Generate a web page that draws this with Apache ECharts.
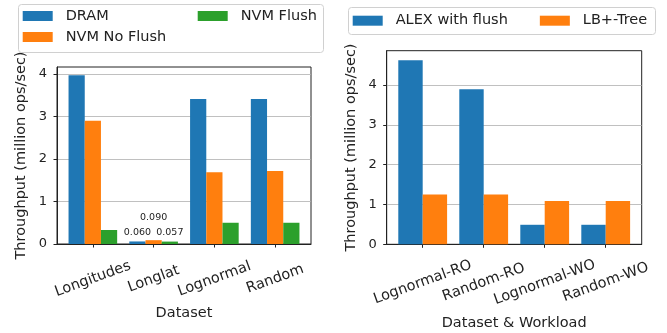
<!DOCTYPE html>
<html>
<head>
<meta charset="utf-8">
<script src="https://cdn.jsdelivr.net/npm/echarts@6/dist/echarts.min.js"></script>
<style>
  html, body { margin: 0; padding: 0; background: #fff; }
  #chart { width: 667px; height: 333px; }
</style>
</head>
<body>
<div id="chart"></div>
<script>
var dom = document.getElementById("chart");
var myChart = echarts.init(dom, null, { renderer: "canvas" });

// left panel
var datasets = ["Longitudes", "Longlat", "Lognormal", "Random"];
var dram = [3.97, 0.060, 3.41, 3.41];
var nvmNoFlush = [2.90, 0.090, 1.69, 1.72];
var nvmFlush = [0.33, 0.057, 0.50, 0.50];
var annotatedIndex = 1; // Longlat gets value labels

// right panel
var workloads = ["Lognormal-RO", "Random-RO", "Lognormal-WO", "Random-WO"];
var alexFlush = [4.62, 3.89, 0.49, 0.49];
var lbTree = [1.25, 1.25, 1.09, 1.09];

var yTicks = [0, 1, 2, 3, 4];
var xTicks = [0, 1, 2, 3];

var FONT = "DejaVu Sans";
var INK = "#222";
var colors = ["#1f77b4", "#ff7f0e", "#2ca02c"];

function toPoints(values, labelDistance) {
  return values.map(function (v, i) {
    var item = { value: [i, v] };
    if (labelDistance != null && i === annotatedIndex) {
      item.label = {
        show: true,
        position: "top",
        distance: labelDistance,
        formatter: function (p) { return p.value[1].toFixed(3); },
        fontFamily: FONT,
        fontSize: 9.5,
        color: INK,
      };
    }
    return item;
  });
}

function xAxisFor(gridIndex, names, margin, nameGap, axisName) {
  return {
    type: "value",
    gridIndex: gridIndex,
    min: -0.59,
    max: 3.59,
    name: axisName,
    nameLocation: "middle",
    nameGap: nameGap,
    nameTextStyle: { fontFamily: FONT, fontSize: 14.5, color: INK },
    axisLine: { show: true, onZero: false, lineStyle: { color: INK, width: 1 } },
    axisTick: { show: true, length: 3.5, lineStyle: { color: INK }, customValues: xTicks },
    axisLabel: {
      customValues: xTicks,
      rotate: 20,
      align: "center",
      verticalAlign: "middle",
      margin: margin,
      fontFamily: FONT,
      fontSize: 14.5,
      color: INK,
      formatter: function (v) { return names[Math.round(v)]; },
    },
    splitLine: { show: false },
  };
}

function yAxisFor(gridIndex, max) {
  return {
    type: "value",
    gridIndex: gridIndex,
    min: 0,
    max: max,
    interval: 1,
    name: "Throughput (million ops/sec)",
    nameLocation: "middle",
    nameGap: 28,
    nameTextStyle: { fontFamily: FONT, fontSize: 14.5, color: INK },
    axisLine: { show: true, onZero: false, lineStyle: { color: INK, width: 1 } },
    axisTick: { show: true, length: 3.5, lineStyle: { color: INK }, customValues: yTicks },
    axisLabel: { customValues: yTicks, margin: 10, fontFamily: FONT, fontSize: 13, color: INK },
    splitLine: { show: true, lineStyle: { color: "#b0b0b0", width: 0.8 } },
  };
}

function legendText() {
  return { fontFamily: FONT, fontSize: 14.5, color: INK, lineHeight: 16, padding: [0, 0, 0, 8] };
}

var option = {
  animation: false,
  color: colors,
  graphic: [
    {
      type: "rect",
      shape: { x: 18.5, y: 4.5, width: 305, height: 48, r: 3 },
      style: { fill: "rgba(255,255,255,0.8)", stroke: "#d0d0d0", lineWidth: 1 },
      z: 1,
    },
    {
      type: "rect",
      shape: { x: 348.5, y: 7.5, width: 307, height: 27, r: 3 },
      style: { fill: "rgba(255,255,255,0.8)", stroke: "#d0d0d0", lineWidth: 1 },
      z: 1,
    },
  ],
  legend: [
    {
      data: ["DRAM", "NVM No Flush"],
      orient: "vertical",
      left: 22.7,
      top: 8,
      padding: 0,
      itemGap: 5,
      itemWidth: 30,
      itemHeight: 10,
      icon: "rect",
      textStyle: legendText(),
      selectedMode: false,
      z: 5,
    },
    {
      data: ["NVM Flush"],
      orient: "vertical",
      left: 197.7,
      top: 8,
      padding: 0,
      itemWidth: 30,
      itemHeight: 10,
      icon: "rect",
      textStyle: legendText(),
      selectedMode: false,
      z: 5,
    },
    {
      data: ["ALEX with flush", "LB+-Tree"],
      orient: "horizontal",
      left: 352.7,
      top: 12.7,
      padding: 0,
      itemGap: 32,
      itemWidth: 30,
      itemHeight: 10,
      icon: "rect",
      textStyle: legendText(),
      selectedMode: false,
      z: 5,
    },
  ],
  grid: [
    { left: 57, right: 356, top: 67, bottom: 89, outerBoundsMode: "none", show: true, borderColor: INK, borderWidth: 1, backgroundColor: "transparent" },
    { left: 386.7, right: 25.3, top: 50.7, bottom: 88.7, outerBoundsMode: "none", show: true, borderColor: INK, borderWidth: 1, backgroundColor: "transparent" },
  ],
  xAxis: [
    xAxisFor(0, datasets, 35, 60, "Dataset"),
    xAxisFor(1, workloads, 38, 71, "Dataset & Workload"),
  ],
  yAxis: [yAxisFor(0, 4.165), yAxisFor(1, 4.86)],
  series: [
    { name: "DRAM", type: "bar", xAxisIndex: 0, yAxisIndex: 0, data: toPoints(dram, 4), barGap: "0%", barCategoryGap: "20%", color: colors[0] },
    { name: "NVM No Flush", type: "bar", xAxisIndex: 0, yAxisIndex: 0, data: toPoints(nvmNoFlush, 18), barGap: "0%", barCategoryGap: "20%", color: colors[1] },
    { name: "NVM Flush", type: "bar", xAxisIndex: 0, yAxisIndex: 0, data: toPoints(nvmFlush, 4), barGap: "0%", barCategoryGap: "20%", color: colors[2] },
    { name: "ALEX with flush", type: "bar", xAxisIndex: 1, yAxisIndex: 1, data: toPoints(alexFlush), barGap: "0%", barCategoryGap: "20%", color: colors[0] },
    { name: "LB+-Tree", type: "bar", xAxisIndex: 1, yAxisIndex: 1, data: toPoints(lbTree), barGap: "0%", barCategoryGap: "20%", color: colors[1] },
  ],
};

myChart.setOption(option);
window.addEventListener("resize", myChart.resize);
</script>
</body>
</html>
